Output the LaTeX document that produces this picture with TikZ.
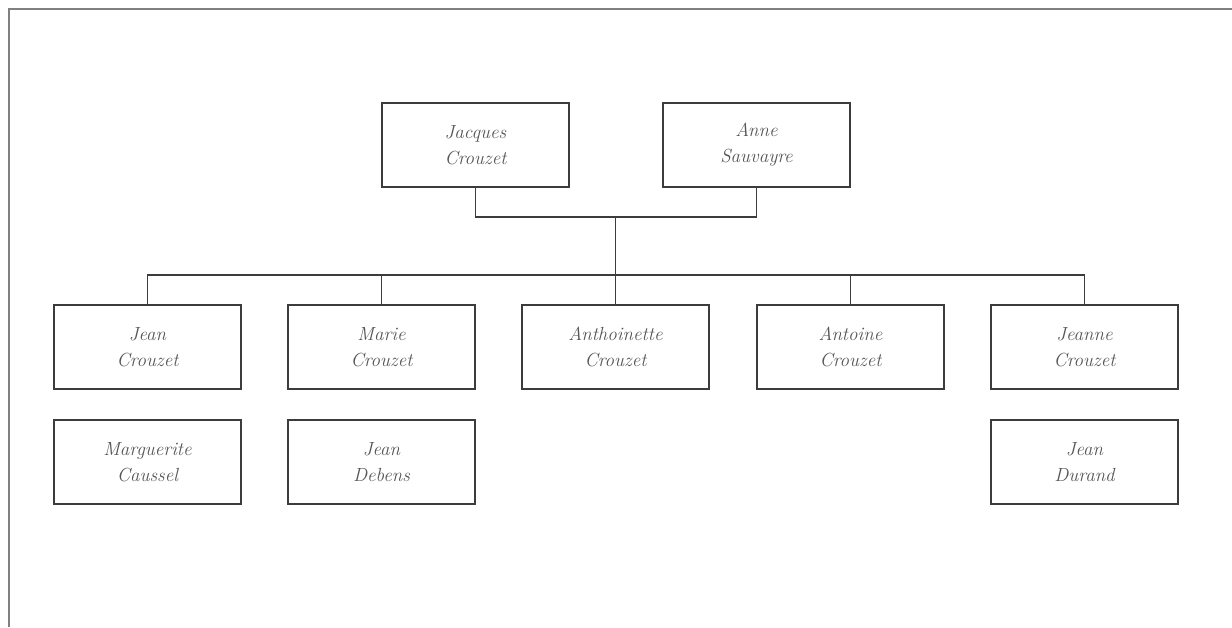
\documentclass[tikz,border=0pt]{standalone}
\usepackage{tikz}
\usetikzlibrary{positioning,calc}
\definecolor{frameline}{RGB}{128,128,128}
\definecolor{boxline}{RGB}{60,60,60}
\definecolor{nametext}{RGB}{85,85,85}

\begin{document}
\begin{tikzpicture}[
    x=1pt, y=-1pt,
    person/.style={rectangle, draw=boxline, line width=1.4pt, minimum width=187pt, minimum height=84pt, align=center, text=nametext, font=\fontsize{19}{26}\selectfont\itshape},
    link/.style={draw=boxline, line width=1.6pt},
]
\useasboundingbox (0,0) rectangle (1232,627);

% Frame (top and left only)
\draw[frameline, line width=2.5pt] (9,627) -- (9,9) -- (1232,9);

% Parents
\node[person] (jacques) at (475.5, 145) {Jacques\\Crouzet};
\node[person] (anne) at (756.5, 145) {Anne\\Sauvayre};

% Children
\node[person] (jean) at (147.5, 347) {Jean\\Crouzet};
\node[person] (marie) at (381.5, 347) {Marie\\Crouzet};
\node[person] (anthoinette) at (615.5, 347) {Anthoinette\\Crouzet};
\node[person] (antoine) at (850.5, 347) {Antoine\\Crouzet};
\node[person] (jeanne) at (1084.5, 347) {Jeanne\\Crouzet};

% Spouses
\node[person] (marguerite) at (147.5, 462) {Marguerite\\Caussel};
\node[person] (debens) at (381.5, 462) {Jean\\Debens};
\node[person] (durand) at (1084.5, 462) {Jean\\Durand};

% Connectors
\coordinate (couple) at (615.5, 217);
\coordinate (bar) at (615.5, 275);
\draw[link] (jacques.south) |- (couple) -| (anne.south);
\draw[link] (couple) -- (bar);
\draw[link] (bar) -| (jean.north);
\draw[link] (bar) -| (marie.north);
\draw[link] (bar) -- (anthoinette.north);
\draw[link] (bar) -| (antoine.north);
\draw[link] (bar) -| (jeanne.north);

\end{tikzpicture}
\end{document}
